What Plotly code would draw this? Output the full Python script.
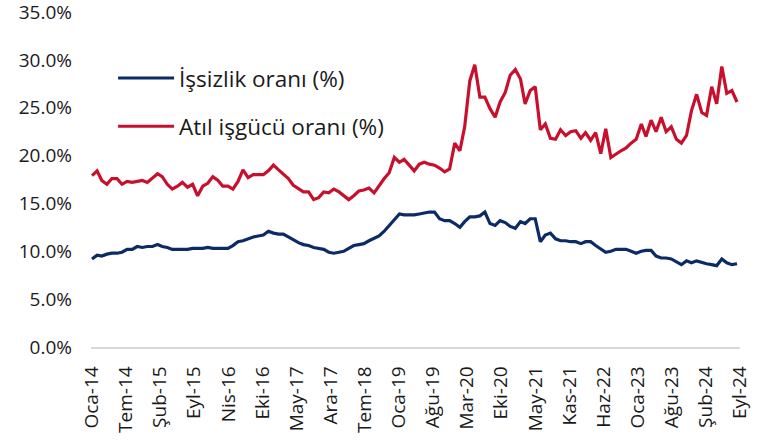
import pandas as pd
import plotly.graph_objects as go

# Monthly data, Jan 2014 - Sep 2024
months = pd.date_range("2014-01-01", "2024-09-01", freq="MS")

unemployment = [
    9.2, 9.6, 9.5, 9.7, 9.8, 9.8, 9.9, 10.2, 10.2, 10.5, 10.4, 10.5,
    10.5, 10.7, 10.5, 10.4, 10.2, 10.2, 10.2, 10.2, 10.3, 10.3, 10.3, 10.4,
    10.3, 10.3, 10.3, 10.3, 10.6, 11.0, 11.1, 11.3, 11.5, 11.6, 11.7, 12.1,
    11.9, 11.8, 11.8, 11.5, 11.2, 10.9, 10.7, 10.6, 10.4, 10.3, 10.2, 9.9,
    9.8, 9.9, 10.0, 10.3, 10.6, 10.7, 10.8, 11.1, 11.4, 11.6, 12.1, 12.7,
    13.4, 13.9, 13.8, 13.8, 13.8, 13.9, 14.0, 14.1, 14.1, 13.4, 13.2, 13.2,
    12.9, 12.5, 13.1, 13.6, 13.6, 13.7, 14.1, 12.9, 12.7, 13.2, 13.0, 12.6,
    12.4, 13.1, 12.9, 13.4, 13.4, 11.0, 11.7, 11.9, 11.3, 11.1, 11.1, 11.0,
    11.0, 10.8, 11.0, 11.0, 10.6, 10.2, 9.9, 10.0, 10.2, 10.2, 10.2, 10.0,
    9.8, 10.0, 10.1, 10.1, 9.5, 9.3, 9.3, 9.2, 8.9, 8.6, 9.0, 8.8,
    9.0, 8.8, 8.7, 8.6, 8.5, 9.2, 8.8, 8.6, 8.7,
]

underutilization = [
    17.9, 18.4, 17.4, 17.0, 17.6, 17.6, 17.0, 17.3, 17.2, 17.3, 17.4, 17.2,
    17.6, 18.1, 17.8, 17.0, 16.5, 16.8, 17.2, 16.7, 17.0, 15.8, 16.8, 17.1,
    17.8, 17.4, 16.8, 16.8, 16.5, 17.3, 18.5, 17.7, 18.0, 18.0, 18.0, 18.4,
    19.0, 18.5, 18.1, 17.6, 16.9, 16.5, 16.2, 16.2, 15.4, 15.6, 16.2, 16.1,
    16.5, 16.2, 15.8, 15.4, 15.8, 16.3, 16.4, 16.6, 16.1, 16.9, 17.6, 18.2,
    19.8, 19.3, 19.6, 19.0, 18.4, 19.1, 19.3, 19.1, 19.0, 18.7, 18.3, 18.6,
    21.3, 20.5, 23.0, 27.8, 29.5, 26.1, 26.1, 24.9, 24.0, 25.6, 26.6, 28.4,
    29.0, 28.0, 25.4, 26.8, 27.2, 22.7, 23.3, 21.8, 21.7, 22.7, 22.1, 22.5,
    22.6, 21.8, 22.4, 21.6, 22.4, 20.2, 22.8, 19.8, 20.2, 20.5, 20.8, 21.3,
    21.7, 23.3, 22.0, 23.7, 22.5, 24.0, 22.5, 23.0, 21.7, 21.3, 22.1, 24.7,
    26.4, 24.5, 24.2, 27.2, 25.4, 29.3, 26.5, 26.8, 25.6,
]

tick_labels = [
    "Oca-14", "Tem-14", "Şub-15", "Eyl-15", "Nis-16", "Eki-16", "May-17",
    "Ara-17", "Tem-18", "Oca-19", "Ağu-19", "Mar-20", "Eki-20", "May-21",
    "Kas-21", "Haz-22", "Oca-23", "Ağu-23", "Şub-24", "Eyl-24",
]

y_ticks = [0, 5, 10, 15, 20, 25, 30, 35]
y_tick_labels = ["0.0%", "5.0%", "10.0%", "15.0%", "20.0%", "25.0%", "30.0%", "35.0%"]

series_names = ["İşsizlik oranı (%)", "Atıl işgücü oranı (%)"]
colors = ["#0C2B66", "#C8102E"]

# tick positions: evenly spaced date-axis major units
base = pd.Timestamp("2014-01-01")
tick_vals = [base + pd.Timedelta(days=206 * k) for k in range(len(tick_labels))]

FONT = "Open Sans"
TXT = "#1a1a1a"

fig = go.Figure()
for name, vals, col, grp in zip(series_names, [unemployment, underutilization], colors, ["a", "b"]):
    fig.add_trace(go.Scatter(
        x=months, y=vals, mode="lines", name=name, legendgroup=grp,
        line=dict(color=col, width=3.2),
    ))

fig.update_layout(
    width=763, height=442,
    margin=dict(l=91, r=23, t=12, b=95, autoexpand=False),
    paper_bgcolor="white", plot_bgcolor="white",
    font=dict(family=FONT, color=TXT, size=19),
    showlegend=True,
    legend=dict(
        xref="paper", yref="paper",
        x=0.034, y=0.866, xanchor="left", yanchor="top",
        font=dict(size=22.5, family=FONT, color=TXT),
        bgcolor="rgba(0,0,0,0)", itemwidth=56,
        traceorder="grouped", tracegroupgap=16,
    ),
    xaxis=dict(
        type="date", range=["2013-12-26", "2024-09-19"],
        tickmode="array", tickvals=tick_vals, ticktext=tick_labels,
        tickangle=-90, showgrid=False, zeroline=False,
        showline=True, linecolor="#D9D9D9", linewidth=1.5,
        ticks="", tickfont=dict(size=19), automargin=False,
        ticklabelstandoff=10,
    ),
    yaxis=dict(
        range=[0, 35.001], tickmode="array", tickvals=y_ticks, ticktext=y_tick_labels,
        showgrid=False, zeroline=False, showline=False, ticks="",
        ticklabelstandoff=18, tickfont=dict(size=19), automargin=False,
        ticklabeloverflow="allow",
    ),
)

fig.write_html(
    "out.html",
    config={"displayModeBar": False},
    post_script="document.body.style.margin='0';document.body.style.overflow='hidden';",
)
